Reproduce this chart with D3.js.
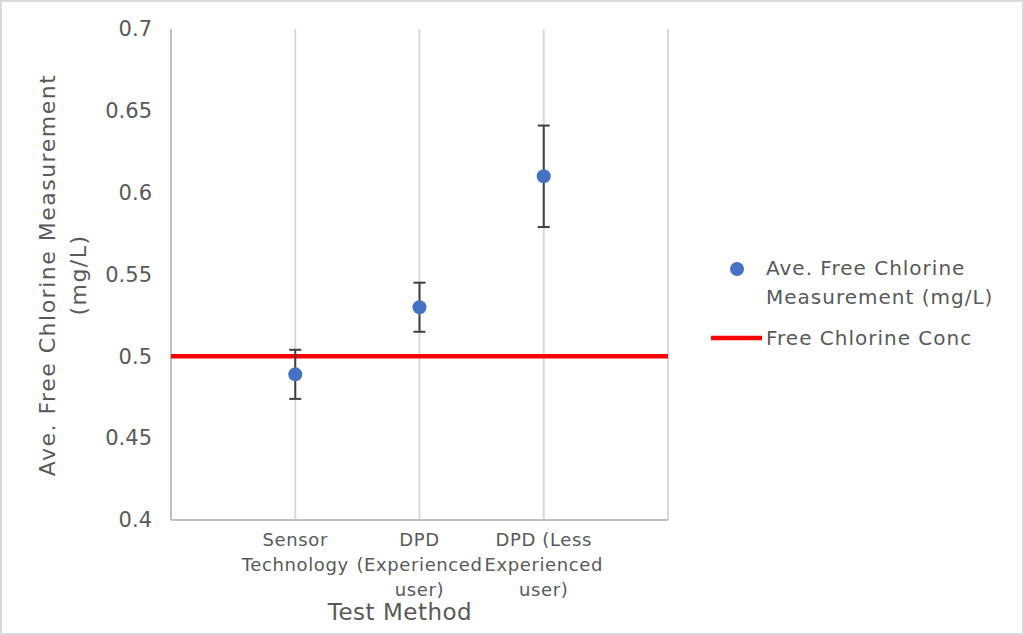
<!DOCTYPE html>
<html>
<head>
<meta charset="utf-8">
<script src="https://cdn.jsdelivr.net/npm/d3@7"></script>
<style>
  body { margin: 0; background: #fff; }
  text { font-family: "DejaVu Sans", sans-serif; fill: #595959; }
</style>
</head>
<body>
<script>
  // chart data
  var categories = [["Sensor", "Technology"], ["DPD", "(Experienced", "user)"], ["DPD (Less", "Experienced", "user)"]];
  var means = [0.489, 0.530, 0.610];
  var errors = [0.015, 0.015, 0.031];
  var refValue = 0.5;
  var yTicks = [0.4, 0.45, 0.5, 0.55, 0.6, 0.65, 0.7];
  var seriesNames = [["Ave. Free Chlorine", "Measurement (mg/L)"], ["Free Chlorine Conc"]];

  var W = 1024, H = 635;
  var mLeft = 171, mRight = 668, mTop = 29, mBottom = 520;

  var svg = d3.select("body").append("svg")
    .attr("width", W)
    .attr("height", H);

  svg.append("rect")
    .attr("x", 1).attr("y", 1)
    .attr("width", W - 2).attr("height", H - 2)
    .attr("fill", "#fff")
    .attr("stroke", "#d9d9d9")
    .attr("stroke-width", 2);

  var x = d3.scaleLinear().domain([0, categories.length + 1]).range([mLeft, mRight]);
  var y = d3.scaleLinear().domain([0.4, 0.7]).range([mBottom, mTop]);

  // vertical gridlines
  svg.selectAll(".vgrid")
    .data(d3.range(0, categories.length + 2))
    .enter().append("line")
    .attr("x1", function(d) { return x(d); })
    .attr("x2", function(d) { return x(d); })
    .attr("y1", y(0.7))
    .attr("y2", y(0.4))
    .attr("stroke", function(d) { return d == 0 ? "#bfbfbf" : "#d9d9d9"; })
    .attr("stroke-width", 2);

  // bottom axis line
  svg.append("line")
    .attr("x1", x(0)).attr("x2", x(categories.length + 1))
    .attr("y1", y(0.4)).attr("y2", y(0.4))
    .attr("stroke", "#bfbfbf")
    .attr("stroke-width", 2);

  // y tick labels
  var yAxis = d3.axisLeft(y).tickValues(yTicks).tickSize(0).tickPadding(19)
    .tickFormat(function(d) { return String(+d.toFixed(2)); });
  var ya = svg.append("g").attr("transform", "translate(" + mLeft + ",0)").call(yAxis);
  ya.select(".domain").remove();
  ya.selectAll("text").style("font-size", "21px").attr("fill", "#595959")
    .style("font-family", "DejaVu Sans, sans-serif");

  // x category labels
  categories.forEach(function(lines, i) {
    var t = svg.append("text")
      .attr("x", x(i + 1))
      .attr("y", 546)
      .attr("text-anchor", "middle")
      .style("font-size", "18px")
      .style("letter-spacing", "0.6px");
    lines.forEach(function(s, j) {
      t.append("tspan").attr("x", x(i + 1)).attr("dy", j == 0 ? 0 : 25).text(s);
    });
  });

  // axis titles
  svg.append("text")
    .attr("x", 400).attr("y", 620)
    .attr("text-anchor", "middle")
    .style("font-size", "23px")
    .style("letter-spacing", "0.5px")
    .text("Test Method");

  var yt = svg.append("text")
    .attr("transform", "translate(55,275) rotate(-90)")
    .attr("text-anchor", "middle")
    .style("font-size", "22px")
    .style("letter-spacing", "1.5px");
  yt.append("tspan").attr("x", 0).attr("dy", 0).text("Ave. Free Chlorine Measurement");
  yt.append("tspan").attr("x", 0).attr("dy", 31).text("(mg/L)");

  // reference line
  svg.append("line")
    .attr("x1", x(0)).attr("x2", x(categories.length + 1))
    .attr("y1", y(refValue)).attr("y2", y(refValue))
    .attr("stroke", "#ff0000")
    .attr("stroke-width", 4.5);

  // error bars
  var eb = svg.selectAll(".err").data(means).enter().append("g");
  eb.append("line")
    .attr("x1", function(d, i) { return x(i + 1); })
    .attr("x2", function(d, i) { return x(i + 1); })
    .attr("y1", function(d, i) { return y(d + errors[i]); })
    .attr("y2", function(d, i) { return y(d - errors[i]); })
    .attr("stroke", "#404040").attr("stroke-width", 2);
  [1, -1].forEach(function(s) {
    eb.append("line")
      .attr("x1", function(d, i) { return x(i + 1) - 6; })
      .attr("x2", function(d, i) { return x(i + 1) + 6; })
      .attr("y1", function(d, i) { return y(d + s * errors[i]); })
      .attr("y2", function(d, i) { return y(d + s * errors[i]); })
      .attr("stroke", "#404040").attr("stroke-width", 2);
  });

  // points
  svg.selectAll(".pt").data(means).enter().append("circle")
    .attr("cx", function(d, i) { return x(i + 1); })
    .attr("cy", function(d) { return y(d); })
    .attr("r", 7)
    .attr("fill", "#4472c4");

  // legend
  svg.append("circle").attr("cx", 737).attr("cy", 269).attr("r", 7).attr("fill", "#4472c4");
  var lt = svg.append("text").attr("x", 766).attr("y", 275)
    .style("font-size", "20px").style("letter-spacing", "1px");
  seriesNames[0].forEach(function(s, j) {
    lt.append("tspan").attr("x", 766).attr("dy", j == 0 ? 0 : 29).text(s);
  });
  svg.append("line")
    .attr("x1", 711).attr("x2", 762)
    .attr("y1", 338).attr("y2", 338)
    .attr("stroke", "#ff0000").attr("stroke-width", 4.5);
  svg.append("text").attr("x", 766).attr("y", 345)
    .style("font-size", "20px").style("letter-spacing", "1px")
    .text(seriesNames[1][0]);
</script>
</body>
</html>
